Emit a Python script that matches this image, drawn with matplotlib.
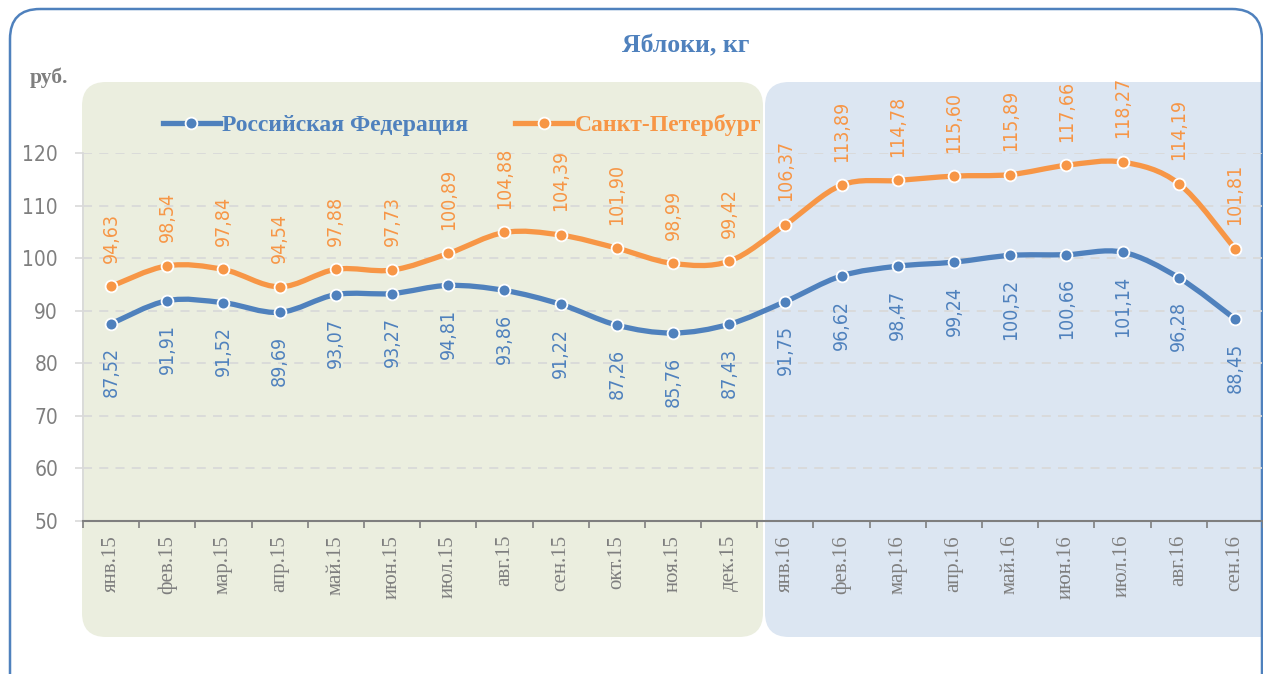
import numpy as np
import matplotlib
matplotlib.use('Agg')
import matplotlib.pyplot as plt
from matplotlib.path import Path
from matplotlib.patches import PathPatch, FancyBboxPatch
from matplotlib.lines import Line2D

# data
months = ['янв.15', 'фев.15', 'мар.15', 'апр.15', 'май.15', 'июн.15', 'июл.15',
          'авг.15', 'сен.15', 'окт.15', 'ноя.15', 'дек.15', 'янв.16', 'фев.16',
          'мар.16', 'апр.16', 'май.16', 'июн.16', 'июл.16', 'авг.16', 'сен.16']
rf = [87.52, 91.91, 91.52, 89.69, 93.07, 93.27, 94.81, 93.86, 91.22, 87.26, 85.76,
      87.43, 91.75, 96.62, 98.47, 99.24, 100.52, 100.66, 101.14, 96.28, 88.45]
spb = [94.63, 98.54, 97.84, 94.54, 97.88, 97.73, 100.89, 104.88, 104.39, 101.90, 98.99,
       99.42, 106.37, 113.89, 114.78, 115.60, 115.89, 117.66, 118.27, 114.19, 101.81]
yticks = [50, 60, 70, 80, 90, 100, 110, 120]

BLUE = '#4F81BD'
ORANGE = '#F79646'
GREY = '#7F7F7F'
SERIF = 'Liberation Serif'

W, H = 1263, 674
fig = plt.figure(figsize=(W / 100, H / 100), dpi=100)

# background layer in pixel coords
bg = fig.add_axes([0, 0, 1, 1], zorder=0)
bg.set_xlim(0, W)
bg.set_ylim(H, 0)
bg.axis('off')
bg.add_patch(FancyBboxPatch((82, 82), 681, 555, boxstyle='round,pad=0,rounding_size=24',
                            fc='#EBEEDF', ec='none'))
bg.add_patch(FancyBboxPatch((765, 82), 520, 555, boxstyle='round,pad=0,rounding_size=24',
                            fc='#DCE6F2', ec='none'))
bg.add_patch(FancyBboxPatch((10, 9), 1252, 720, boxstyle='round,pad=0,rounding_size=30',
                            fc='none', ec=BLUE, lw=1.8))

ax = fig.add_axes([83 / W, 153 / H, 1180 / W, 368 / H], zorder=1)
ax.patch.set_alpha(0)


def smooth_path(xs, ys):
    # Excel-like smoothed line (cubic Bezier through the points)
    pts = np.column_stack([xs, ys]).astype(float)
    ext = np.vstack([pts[0], pts, pts[-1]])
    verts = [pts[0]]
    codes = [Path.MOVETO]
    for i in range(len(pts) - 1):
        p0, p1, p2, p3 = ext[i], ext[i + 1], ext[i + 2], ext[i + 3]
        verts += [p1 + (p2 - p0) / 6, p2 - (p3 - p1) / 6, p2]
        codes += [Path.CURVE4] * 3
    return Path(verts, codes)


x = np.arange(len(months))
for vals, col in [(rf, BLUE), (spb, ORANGE)]:
    ax.add_patch(PathPatch(smooth_path(x, vals), fc='none', ec=col, lw=3.8,
                           capstyle='round', joinstyle='round', zorder=3))
    ax.plot(x, vals, ls='none', marker='o', ms=8.5, mfc=col, mec='white', mew=1.3, zorder=4)

lab_font = dict(family='DejaVu Sans', stretch='condensed', fontsize=14)
for xi, v in zip(x, spb):
    ax.annotate(f'{v:.2f}'.replace('.', ','), (xi, v), xytext=(0, 17), textcoords='offset points',
                rotation=90, ha='center', va='bottom', color=ORANGE,
                annotation_clip=False, **lab_font)
for xi, v in zip(x, rf):
    ax.annotate(f'{v:.2f}'.replace('.', ','), (xi, v), xytext=(0, -17), textcoords='offset points',
                rotation=90, ha='center', va='top', color=BLUE,
                annotation_clip=False, **lab_font)

ax.set_xlim(-0.5, len(months) - 0.5)
ax.set_ylim(50, 120)
ax.set_yticks(yticks)
ax.set_yticklabels([str(t) for t in yticks], family='DejaVu Sans', stretch='condensed',
                   fontsize=15, color=GREY)
ax.set_xticks(np.arange(len(months) + 1) - 0.5, minor=False)
ax.set_xticklabels([])
ax.set_xticks(x, minor=True)
ax.set_xticklabels(months, minor=True, rotation=90, family=SERIF,
                   fontsize=15, color=GREY)
ax.tick_params(axis='x', which='major', length=5, color=GREY, width=1.2, direction='out')
ax.tick_params(axis='x', which='minor', length=0, pad=10)
ax.tick_params(axis='y', length=6, color='#D9D9D9', width=1.2, pad=12)
ax.grid(axis='y', color='#D9D9D9', ls=(0, (5, 4)), lw=1.3)
for s in ['top', 'right']:
    ax.spines[s].set_visible(False)
ax.spines['left'].set_color('#D9D9D9')
ax.spines['left'].set_linewidth(1.3)
ax.spines['bottom'].set_color(GREY)
ax.spines['bottom'].set_linewidth(1.5)
ax.set_axisbelow(True)

# titles
fig.text(686 / W, 1 - 46 / H, 'Яблоки, кг', ha='center', va='center', color=BLUE,
         fontsize=18.5, fontweight='bold', family=SERIF)
fig.text(30 / W, 1 - 78 / H, 'руб.', ha='left', va='center', color=GREY,
         fontsize=15.5, fontweight='bold', family=SERIF)

# legend
handles = [Line2D([], [], color=BLUE, lw=3.8, marker='o', ms=8.5, mfc=BLUE, mec='white', mew=1.3),
           Line2D([], [], color=ORANGE, lw=3.8, marker='o', ms=8.5, mfc=ORANGE, mec='white', mew=1.3)]
leg = fig.legend(handles, ['Российская Федерация', 'Санкт-Петербург'], ncol=2,
                 loc='center left', bbox_to_anchor=(163 / W, 1 - 125 / H), frameon=False,
                 borderpad=0, borderaxespad=0, handlelength=2.4, handletextpad=0.1,
                 columnspacing=2.0, prop={'family': SERIF, 'weight': 'bold', 'size': 17})
for t, c in zip(leg.get_texts(), [BLUE, ORANGE]):
    t.set_color(c)

fig.savefig('out.png', dpi=100)
